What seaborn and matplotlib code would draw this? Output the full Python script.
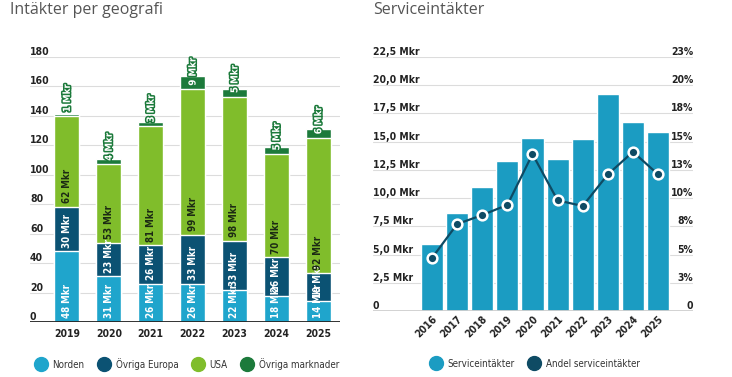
import numpy as np
import pandas as pd
import matplotlib.pyplot as plt
import matplotlib.patheffects as pe
from matplotlib.lines import Line2D
import seaborn as sns

# --- data ---
years_geo = ["2019", "2020", "2021", "2022", "2023", "2024", "2025"]
norden = [48, 31, 26, 26, 22, 18, 14]
ovriga_europa = [30, 23, 26, 33, 33, 26, 19]
usa = [62, 53, 81, 99, 98, 70, 92]
ovriga_marknader = [1, 4, 3, 9, 5, 5, 6]
geo_names = ["Norden", "Övriga Europa", "USA", "Övriga marknader"]
geo_ticks = [0, 20, 40, 60, 80, 100, 120, 140, 160, 180]

years_srv = ["2016", "2017", "2018", "2019", "2020", "2021", "2022", "2023", "2024", "2025"]
service_mkr = [5.9, 8.7, 11.0, 13.3, 15.3, 13.5, 15.2, 19.2, 16.7, 15.9]
service_share = [4.7, 7.7, 8.5, 9.4, 13.9, 9.8, 9.3, 12.1, 14.1, 12.1]
srv_ticks = [0, 2.5, 5.0, 7.5, 10.0, 12.5, 15.0, 17.5, 20.0, 22.5]
srv_left_labels = ["0", "2,5 Mkr", "5,0 Mkr", "7,5 Mkr", "10,0 Mkr", "12,5 Mkr",
                   "15,0 Mkr", "17,5 Mkr", "20,0 Mkr", "22,5 Mkr"]
srv_right_labels = ["0", "3%", "5%", "8%", "10%", "13%", "15%", "18%", "20%", "23%"]

geo_colors = ["#1fa5cc", "#0b5273", "#80bd2b", "#1c7a3b"]
label_colors = ["white", "white", "#1c2a14", "white"]
srv_bar_color = "#1b9cc2"
srv_line_color = "#0e4b64"

TITLE_FONT = ["Open Sans", "DejaVu Sans"]

sns.set_theme(style="white")
plt.rcParams["font.family"] = ["DejaVu Sans"]
plt.rcParams["font.stretch"] = "condensed"

fig = plt.figure(figsize=(7.32, 3.77), dpi=100)
W, H = 732, 377


def add_axes(x0, y_top, x1, y_bottom):
    return fig.add_axes([x0 / W, 1 - y_bottom / H, (x1 - x0) / W, (y_bottom - y_top) / H])


def style_axis(ax, ticks, left_labels, right_labels=None, base_color="#222222"):
    ax.set_ylim(ticks[0], ticks[-1])
    ax.set_yticks([])
    ax.set_ylabel("")
    ax.set_xlabel("")
    for s in ax.spines.values():
        s.set_visible(False)
    ax.set_axisbelow(True)
    for t in ticks[1:]:
        ax.axhline(t, color="#dcdcdc", lw=0.8, zorder=0)
    ax.axhline(ticks[0], color=base_color, lw=1.3, zorder=3)
    tr = ax.get_yaxis_transform()
    for t, lab in zip(ticks, left_labels):
        ax.text(0, t, lab, transform=tr, ha="left", va="bottom", fontsize=7.5,
                fontweight="bold", color="#222222")
    if right_labels is not None:
        for t, lab in zip(ticks, right_labels):
            ax.text(1, t, lab, transform=tr, ha="right", va="bottom", fontsize=7.5,
                    fontweight="bold", color="#222222")


# --- left: stacked bars per geography ---
ax1 = add_axes(30, 57, 340, 322)
series = [norden, ovriga_europa, usa, ovriga_marknader]
df = pd.DataFrame({"year": years_geo})
cum = np.cumsum(np.array(series), axis=0)
for i in range(len(series) - 1, -1, -1):
    df["top"] = cum[i]
    sns.barplot(data=df, x="year", y="top", color=geo_colors[i], width=0.6,
                saturation=1, ax=ax1, zorder=2)

style_axis(ax1, geo_ticks, [str(t) for t in geo_ticks])
ax1.set_xlim(-0.88, 6.52)
ax1.tick_params(axis="x", length=0, pad=5)
for lab in ax1.get_xticklabels():
    lab.set_fontweight("bold")
    lab.set_fontsize(7.5)
    lab.set_color("#222222")

for i, vals in enumerate(series):
    bottoms = cum[i] - np.array(vals)
    for x, (b, v) in enumerate(zip(bottoms, vals)):
        txt = ax1.text(x, b + 2.5, f"{v} Mkr", rotation=90, ha="center", va="bottom",
                       fontsize=7, fontweight="bold", color=label_colors[i], zorder=5)
        if i == 3:
            txt.set_path_effects([pe.withStroke(linewidth=2.2, foreground=geo_colors[3])])

fig.text(10 / W, 1 - 10 / H, "Intäkter per geografi", family=TITLE_FONT, stretch="normal",
         fontsize=11.5, color="#555555", ha="left", va="center")

handles = [Line2D([], [], marker="o", ls="", markersize=10, markerfacecolor=c,
                  markeredgecolor=c) for c in geo_colors]
ax1.legend(handles, geo_names, ncol=4, loc="center", bbox_to_anchor=(0.5, -0.158),
           frameon=False, fontsize=7, handletextpad=0.2, columnspacing=1.0,
           labelcolor="#333333")

# --- right: service revenue ---
ax2 = add_axes(373, 57, 693, 311)
sdf = pd.DataFrame({"year": years_srv, "mkr": service_mkr, "share": service_share})
sns.barplot(data=sdf, x="year", y="mkr", color=srv_bar_color, width=0.88,
            saturation=1, ax=ax2, zorder=2)
style_axis(ax2, srv_ticks, srv_left_labels, srv_right_labels, base_color="#cfcfcf")

ax3 = ax2.twinx()
sns.pointplot(data=sdf, x="year", y="share", color=srv_line_color, markers="o",
              markersize=7, linewidth=1.6, ax=ax3)
for ln in ax3.lines:
    ln.set_markeredgecolor("white")
    ln.set_markeredgewidth(1.8)
    ln.set_zorder(4)
ax3.set_ylim(0, 22.5)
ax3.set_yticks([])
ax3.set_ylabel("")
for s in ax3.spines.values():
    s.set_visible(False)
for a in (ax2, ax3):
    a.set_xlim(-2.35, 10.39)

ax2.tick_params(axis="x", length=0, pad=2)
for lab in ax2.get_xticklabels():
    lab.set_fontweight("bold")
    lab.set_fontsize(7.5)
    lab.set_color("#222222")
    lab.set_rotation(45)
    lab.set_ha("right")
    lab.set_rotation_mode("anchor")
ax2.set_xlabel("")

fig.text(373 / W, 1 - 10 / H, "Serviceintäkter", family=TITLE_FONT, stretch="normal",
         fontsize=11.5, color="#555555", ha="left", va="center")

handles2 = [Line2D([], [], marker="o", ls="", markersize=10, markerfacecolor=c,
                   markeredgecolor=c) for c in (srv_bar_color, srv_line_color)]
ax2.legend(handles2, ["Serviceintäkter", "Andel serviceintäkter"], ncol=2, loc="center",
           bbox_to_anchor=(0.5, -0.207), frameon=False, fontsize=7, handletextpad=0.2,
           columnspacing=1.0, labelcolor="#333333")

fig.savefig("out.png", dpi=100)
